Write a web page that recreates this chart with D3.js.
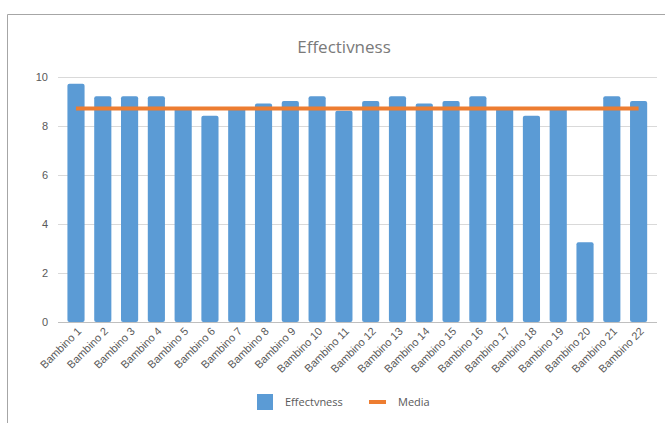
<!DOCTYPE html>
<html>
<head>
<meta charset="utf-8">
<script src="https://cdn.jsdelivr.net/npm/d3@7"></script>
<style>
  html, body { margin: 0; padding: 0; background: #fff; }
  svg { display: block; font-family: "Open Sans", "Liberation Sans", sans-serif; }
</style>
</head>
<body>
<svg id="chart" width="665" height="423"></svg>
<script>
// Per-child effectiveness scores
const categories = ["Bambino 1","Bambino 2","Bambino 3","Bambino 4","Bambino 5","Bambino 6","Bambino 7","Bambino 8","Bambino 9","Bambino 10","Bambino 11","Bambino 12","Bambino 13","Bambino 14","Bambino 15","Bambino 16","Bambino 17","Bambino 18","Bambino 19","Bambino 20","Bambino 21","Bambino 22"];
const effectiveness = [9.7, 9.2, 9.2, 9.2, 8.7, 8.4, 8.7, 8.9, 9.0, 9.2, 8.6, 9.0, 9.2, 8.9, 9.0, 9.2, 8.7, 8.4, 8.7, 3.25, 9.2, 9.0];
const media = d3.mean(effectiveness);
const yTicks = [0, 2, 4, 6, 8, 10];
const seriesNames = ["Effectvness", "Media"];

const svg = d3.select("#chart");
const W = 665, H = 423;
const plot = { left: 58, right: 657, top: 76.5, bottom: 322 };
const barColor = "#5B9BD5", lineColor = "#ED7D31", textColor = "#595959";

// chart frame
svg.append("path")
  .attr("d", `M7.5,${H} L7.5,14.5 L${W},14.5`)
  .attr("fill", "none").attr("stroke", "#a6a6a6").attr("stroke-width", 1);

const x = d3.scaleBand().domain(categories).range([62.6, 652]).paddingInner(0.36).paddingOuter(0.18);
const y = d3.scaleLinear().domain([0, 10]).range([plot.bottom, plot.top]);

// gridlines
svg.append("g").selectAll("line").data(yTicks.filter(t => t > 0)).join("line")
  .attr("x1", plot.left).attr("x2", plot.right)
  .attr("y1", d => Math.round(y(d)) + 0.5).attr("y2", d => Math.round(y(d)) + 0.5)
  .attr("stroke", "#d9d9d9").attr("stroke-width", 1);

// y axis labels
const yAxis = d3.axisLeft(y).tickValues(yTicks).tickSize(0).tickPadding(10);
const gy = svg.append("g").attr("transform", `translate(${plot.left},0)`).call(yAxis);
gy.select(".domain").remove();
gy.selectAll("text").attr("fill", textColor).style("font-size", "11px").attr("dy", "0.35em");

// bars
svg.append("g").selectAll("rect").data(effectiveness).join("rect")
  .attr("x", (d, i) => x(categories[i]))
  .attr("y", d => y(d))
  .attr("width", x.bandwidth())
  .attr("height", d => y(0) - y(d))
  .attr("rx", 2)
  .attr("fill", barColor);

// baseline axis
const xAxis = d3.axisBottom(x).tickSize(0).tickPadding(0);
const gx = svg.append("g").attr("transform", `translate(0,${plot.bottom})`).call(xAxis);
gx.select(".domain").attr("stroke", "#bfbfbf").attr("d", `M${plot.left},0.5H${plot.right}`);
gx.selectAll("text")
  .attr("fill", textColor).style("font-size", "11px")
  .attr("text-anchor", "end")
  .attr("dy", 0).attr("y", 0)
  .attr("transform", "translate(6,10) rotate(-45)");

// mean line
const xc = c => x(c) + x.bandwidth() / 2;
svg.append("line")
  .attr("x1", xc(categories[0])).attr("x2", xc(categories[categories.length - 1]))
  .attr("y1", y(media)).attr("y2", y(media))
  .attr("stroke", lineColor).attr("stroke-width", 4);

// title
svg.append("text").attr("x", 344).attr("y", 53).attr("text-anchor", "middle")
  .attr("fill", "#7a7a7a").style("font-size", "17px").text("Effectivness");

// legend
const lg = svg.append("g").attr("transform", "translate(0,402)");
lg.append("rect").attr("x", 257).attr("y", -8).attr("width", 16).attr("height", 16).attr("fill", barColor);
lg.append("text").attr("x", 285).attr("y", 0).attr("dy", "0.35em").attr("fill", textColor).style("font-size", "11px").text(seriesNames[0]);
lg.append("line").attr("x1", 369).attr("x2", 386).attr("y1", 0).attr("y2", 0).attr("stroke", lineColor).attr("stroke-width", 4);
lg.append("text").attr("x", 398).attr("y", 0).attr("dy", "0.35em").attr("fill", textColor).style("font-size", "11px").text(seriesNames[1]);
</script>
</body>
</html>
